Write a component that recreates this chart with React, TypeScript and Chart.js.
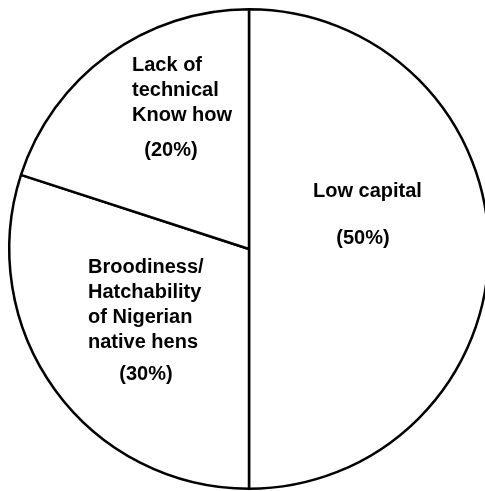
import React, { useEffect, useRef } from "react";
import { Chart, registerables } from "chart.js";

Chart.register(...registerables);

const categories = ["Low capital", "Broodiness/Hatchability of Nigerian native hens", "Lack of technical Know how"];
const values = [50, 30, 20];
const labelLines = [
  ["Low capital"],
  ["Broodiness/", "Hatchability", "of Nigerian", "native hens"],
  ["Lack of", "technical", "Know how"],
];
const percentLabels = ["(50%)", "(30%)", "(20%)"];

// label layout relative to pie centre: [left x of text lines, y of first line, x centre of percent, y of percent]
const labelLayout = [
  [64, -58, 114, -11],
  [-161, 18, -103, 125],
  [-117, -184, -78, -99],
];

const labelPlugin = {
  id: "pieLabels",
  afterDatasetsDraw(chart: any) {
    const meta = chart.getDatasetMeta(0);
    const ctx = chart.ctx;
    ctx.save();
    ctx.fillStyle = "#000";
    ctx.font = "bold 20px 'Liberation Sans', Arial, sans-serif";
    ctx.textBaseline = "middle";
    meta.data.forEach((arc: any, i: number) => {
      const cx = arc.x;
      const cy = arc.y;
      const [lx, ly, px, py] = labelLayout[i];
      ctx.textAlign = "left";
      labelLines[i].forEach((line, j) => {
        ctx.fillText(line, cx + lx, cy + ly + j * 25);
      });
      ctx.textAlign = "center";
      ctx.fillText(percentLabels[i], cx + px, cy + py);
    });
    ctx.restore();
  },
};

export default function App() {
  const ref = useRef<HTMLCanvasElement>(null);
  useEffect(() => {
    if (!ref.current) return;
    const chart = new Chart(ref.current, {
      type: "pie",
      data: {
        labels: categories,
        datasets: [
          {
            data: values,
            backgroundColor: "#ffffff",
            borderColor: "#000000",
            borderWidth: 2.5,
          },
        ],
      },
      options: {
        responsive: false,
        animation: false,
        layout: { padding: 8 },
        plugins: {
          legend: { display: false },
          tooltip: { enabled: false },
        },
      },
      plugins: [labelPlugin],
    });
    return () => chart.destroy();
  }, []);
  return (
    <div style={{ position: "fixed", left: 0, top: 0, width: 485, height: 491, overflow: "hidden", background: "#fff" }}>
      <canvas ref={ref} width={498} height={498} style={{ display: "block" }} />
    </div>
  );
}
